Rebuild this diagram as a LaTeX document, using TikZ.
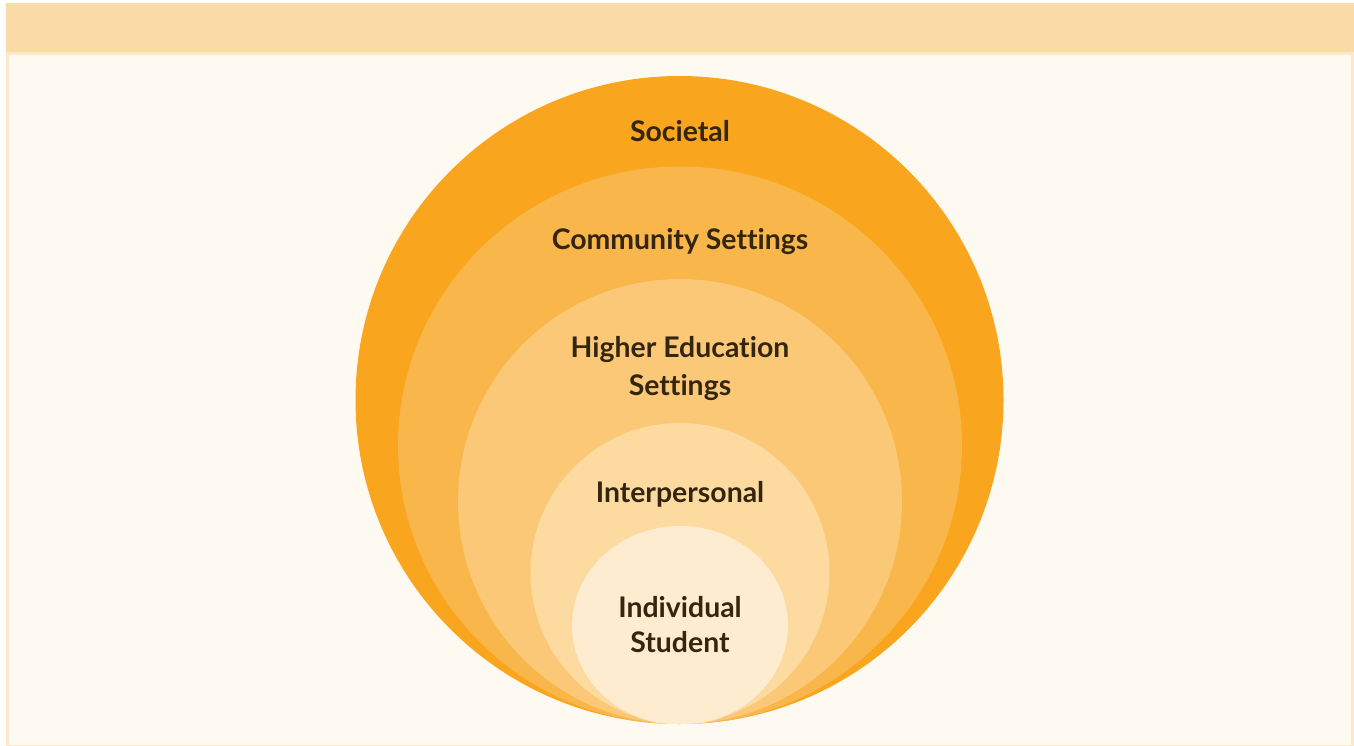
\documentclass[tikz,border=0pt]{standalone}
\usepackage{fontspec}
\setmainfont{Lato}[Ligatures={NoCommon}]
\definecolor{bandcol}{HTML}{F9DBA8}
\definecolor{panelborder}{HTML}{FDE8C9}
\definecolor{panelfill}{HTML}{FEFAF2}
\definecolor{ringA}{HTML}{F9A51E}
\definecolor{ringB}{HTML}{F9B64A}
\definecolor{ringC}{HTML}{FBC877}
\definecolor{ringD}{HTML}{FDDAA0}
\definecolor{ringE}{HTML}{FEECD1}
\definecolor{labelcol}{HTML}{33250E}
\begin{document}
\begin{tikzpicture}[x=1pt,y=-1pt,
  lbl/.style={anchor=base, inner sep=0pt, text=labelcol, font=\bfseries\fontsize{28.4}{32}\selectfont}]
\useasboundingbox (0,0) rectangle (1354,746);
\fill[white] (0,0) rectangle (1354,746);
\fill[panelborder] (6,3) rectangle (1354,746);
\fill[panelfill] (9,55) rectangle (1351,745);
\fill[bandcol] (6,3) rectangle (1354,52);
\fill[ringA] (679.5,400) circle[radius=324];
\begin{scope}
  \clip (679.5,400) circle[radius=324];
  \fill[ringB] (680,445.5) ellipse[x radius=282, y radius=279];
  \fill[ringC] (680,501.5) ellipse[x radius=222, y radius=222.5];
  \fill[ringD] (680,573) ellipse[x radius=149.5, y radius=150];
  \fill[ringE] (680,625.5) ellipse[x radius=108, y radius=99.5];
\end{scope}
\node[lbl] (soc) at (680,142) {Societal};
\node[lbl] (com) at (680,249) {Community Settings};
\node[lbl] (hea) at (680,357) {Higher Education};
\node[lbl] (heb) at (680,395) {Settings};
\node[lbl] (int) at (680,502) {Interpersonal};
\node[lbl] (inda) at (680,617) {Individual};
\node[lbl] (indb) at (680,652) {Student};
\end{tikzpicture}
\end{document}
